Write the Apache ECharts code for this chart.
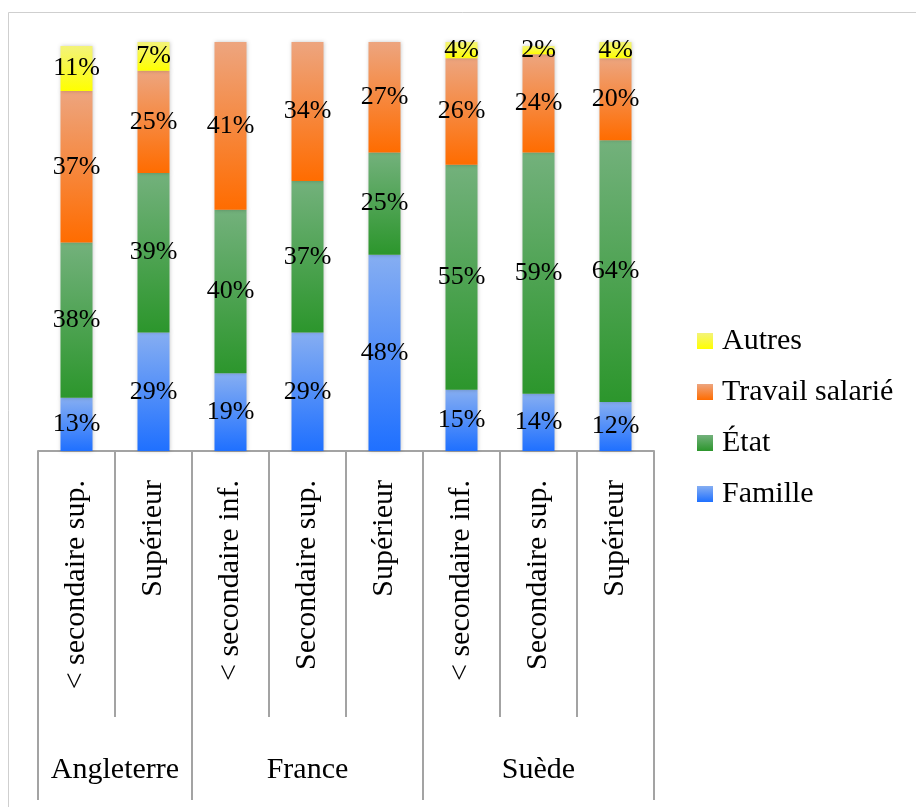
<!DOCTYPE html>
<html>
<head>
<meta charset="utf-8">
<script src="https://cdn.jsdelivr.net/npm/echarts@6/dist/echarts.min.js"></script>
<style>
  html, body { margin: 0; padding: 0; background: #ffffff; }
  #chart { width: 916px; height: 807px; }
</style>
</head>
<body>
<div id="chart"></div>
<script>
// Education level of each bar (inner axis) and the country groups (outer axis)
const levels = ['< secondaire sup.', 'Supérieur', '< secondaire inf.', 'Secondaire sup.', 'Supérieur',
                '< secondaire inf.', 'Secondaire sup.', 'Supérieur'];
const countries = ['Angleterre', 'France', 'Suède'];
const countrySizes = [2, 3, 3];

// Share of each source, in percent
const famille = [13, 29, 19, 29, 48, 15, 14, 12];
const etat    = [38, 39, 40, 37, 25, 55, 59, 64];
const travail = [37, 25, 41, 34, 27, 26, 24, 20];
const autres  = [11, 7, null, null, null, 4, 2, 4];

// Group boundaries and centres along the category band index
const groupEdges = [0];
countrySizes.forEach(function (n) { groupEdges.push(groupEdges[groupEdges.length - 1] + n); });
const groupCentres = countrySizes.map(function (n, i) { return groupEdges[i] + n / 2; });

const FONT = '"Liberation Serif", "Times New Roman", serif';
const AXIS_GREY = '#a3a3a3';

function grad(top, bottom) {
  return new echarts.graphic.LinearGradient(0, 0, 0, 1, [
    { offset: 0, color: top },
    { offset: 1, color: bottom }
  ]);
}

const palette = {
  'Famille': grad('#86aef2', '#1f70ff'),
  'État': grad('#73b17c', '#2c962c'),
  'Travail salarié': grad('#eda57f', '#ff6c00'),
  'Autres': grad('#f3f37a', '#ffff00')
};

function barSeries(name, values) {
  return {
    name: name,
    type: 'bar',
    stack: 'total',
    xAxisIndex: 0,
    barWidth: 32,
    data: values,
    itemStyle: {
      color: palette[name],
      shadowBlur: 4,
      shadowColor: 'rgba(0,0,0,0.22)'
    },
    label: {
      show: true,
      position: 'inside',
      formatter: function (p) { return p.value + '%'; },
      fontFamily: FONT,
      fontSize: 26,
      color: '#000000'
    },
    emphasis: { disabled: true }
  };
}

const chart = echarts.init(document.getElementById('chart'), null, { renderer: 'canvas' });

chart.setOption({
  backgroundColor: '#ffffff',
  animation: false,
  graphic: [{
    type: 'rect',
    shape: { x: 8.5, y: 12.5, width: 940, height: 820 },
    style: { fill: null, stroke: '#cfcfcf', lineWidth: 1 },
    silent: true
  }],
  grid: {
    left: 38,
    right: 262,
    top: 42,
    bottom: 356,
    containLabel: false,
    outerBoundsMode: 'none'
  },
  legend: {
    orient: 'vertical',
    left: 692,
    top: 321,
    itemWidth: 16,
    itemHeight: 16,
    itemGap: 21,
    icon: 'rect',
    data: ['Autres', 'Travail salarié', 'État', 'Famille'],
    textStyle: {
      fontFamily: FONT,
      fontSize: 30,
      lineHeight: 30,
      color: '#000000',
      padding: [0, 0, 0, 4]
    },
    selectedMode: false
  },
  xAxis: [
    {
      type: 'category',
      data: levels,
      position: 'bottom',
      axisLine: { show: true, lineStyle: { color: AXIS_GREY, width: 2 } },
      axisTick: { show: true, interval: 0, length: 266, lineStyle: { color: AXIS_GREY, width: 2 } },
      axisLabel: {
        interval: 0,
        rotate: 90,
        margin: 29,
        fontFamily: FONT,
        fontSize: 30,
        color: '#000000'
      },
      splitLine: { show: false }
    },
    {
      type: 'value',
      min: 0,
      max: groupEdges[groupEdges.length - 1],
      position: 'bottom',
      axisLine: { show: false },
      splitLine: { show: false },
      axisTick: {
        show: true,
        customValues: groupEdges,
        length: 349,
        lineStyle: { color: AXIS_GREY, width: 2 }
      },
      axisLabel: {
        customValues: groupCentres,
        margin: 304,
        fontFamily: FONT,
        fontSize: 30,
        color: '#000000',
        formatter: function (v) {
          const i = groupCentres.indexOf(v);
          return i >= 0 ? countries[i] : '';
        }
      }
    }
  ],
  yAxis: {
    type: 'value',
    min: 0,
    max: 100,
    show: false,
    splitLine: { show: false }
  },
  series: [
    barSeries('Famille', famille),
    barSeries('État', etat),
    barSeries('Travail salarié', travail),
    barSeries('Autres', autres)
  ]
});
</script>
</body>
</html>
